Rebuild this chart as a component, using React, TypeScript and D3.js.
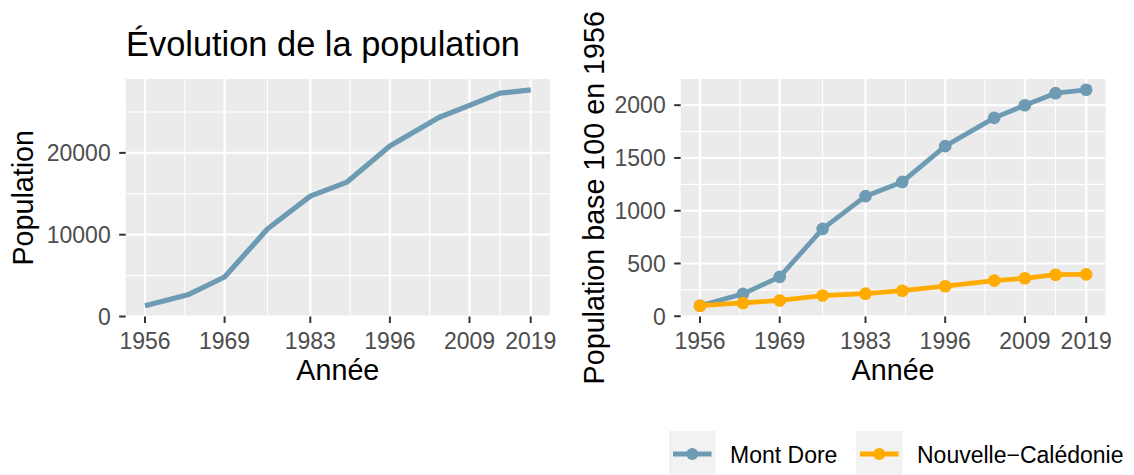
import React from 'react';
import * as d3 from 'd3';

// census years and values
const years = [1956, 1963, 1969, 1976, 1983, 1989, 1996, 2004, 2009, 2014, 2019];
const popMontDore = [1320, 2650, 4830, 10690, 14720, 16430, 20840, 24320, 25810, 27300, 27710];
const indexMontDore = [100, 212, 373, 828, 1138, 1273, 1612, 1880, 2000, 2114, 2146];
const indexNC = [100, 126, 150, 196, 214, 242, 285, 338, 360, 394, 397];

const xBreaks = [1956, 1969, 1983, 1996, 2009, 2019];
const popBreaks = [0, 10000, 20000];
const indexBreaks = [0, 500, 1000, 1500, 2000];

const series = [
  { name: 'Mont Dore', color: '#6d9bb3', values: indexMontDore },
  { name: 'Nouvelle\u2212Calédonie', color: '#ffab00', values: indexNC },
];

const W = 1134;
const H = 475;
const FONT = '"Liberation Sans", Arial, Helvetica, sans-serif';
const PANEL_BG = '#ebebeb';
const TICK_COL = '#4d4d4d';
const top = 79;
const bottom = 316.5;

const expand = (lo: number, hi: number) => {
  const d = (hi - lo) * 0.05;
  return [lo - d, hi + d];
};

const minorsOf = (breaks: number[], domain: number[]) => {
  const step = breaks[1] - breaks[0];
  const mids = d3.pairs(breaks).map(([a, b]) => (a + b) / 2);
  const extra = [breaks[0] - step / 2, breaks[breaks.length - 1] + step / 2];
  return mids.concat(extra).filter(v => v > domain[0] && v < domain[1]);
};

const xDomain = expand(d3.min(years)!, d3.max(years)!);
const xMinors = d3.pairs(xBreaks).map(([a, b]) => (a + b) / 2);

const Panel = ({ x0, x1, yDomain, yBreaks, children }: any) => {
  const x = d3.scaleLinear().domain(xDomain).range([x0, x1]);
  const y = d3.scaleLinear().domain(yDomain).range([bottom, top]);
  const yMinors = minorsOf(yBreaks, yDomain);
  return (
    <g>
      <rect x={x0} y={top} width={x1 - x0} height={bottom - top} fill={PANEL_BG} />
      {yMinors.map(v => (
        <line key={'ym' + v} x1={x0} x2={x1} y1={y(v)} y2={y(v)} stroke="#fff" strokeWidth={1.1} />
      ))}
      {xMinors.map(v => (
        <line key={'xm' + v} x1={x(v)} x2={x(v)} y1={top} y2={bottom} stroke="#fff" strokeWidth={1.1} />
      ))}
      {yBreaks.map((v: number) => (
        <line key={'yM' + v} x1={x0} x2={x1} y1={y(v)} y2={y(v)} stroke="#fff" strokeWidth={2.2} />
      ))}
      {xBreaks.map(v => (
        <line key={'xM' + v} x1={x(v)} x2={x(v)} y1={top} y2={bottom} stroke="#fff" strokeWidth={2.2} />
      ))}
      {children(x, y)}
      {yBreaks.map((v: number) => (
        <g key={'yt' + v}>
          <line x1={x0 - 6.5} x2={x0} y1={y(v)} y2={y(v)} stroke="#333" strokeWidth={2} />
          <text x={x0 - 15} y={y(v)} dy="0.36em" textAnchor="end" fontSize={23} fill={TICK_COL}>{v}</text>
        </g>
      ))}
      {xBreaks.map(v => (
        <g key={'xt' + v}>
          <line x1={x(v)} x2={x(v)} y1={bottom} y2={bottom + 6.5} stroke="#333" strokeWidth={2} />
          <text x={x(v)} y={348.5} textAnchor="middle" fontSize={23} fill={TICK_COL}>{v}</text>
        </g>
      ))}
      <text x={(x0 + x1) / 2} y={380} textAnchor="middle" fontSize={28.7} fill="#000">Année</text>
    </g>
  );
};

export default function App() {
  const popDomain = expand(d3.min(popMontDore)!, d3.max(popMontDore)!);
  const allIdx = indexMontDore.concat(indexNC);
  const idxDomain = expand(d3.min(allIdx)!, d3.max(allIdx)!);

  return (
    <svg width={W} height={H} style={{ position: 'fixed', left: 0, top: 0 }} fontFamily={FONT}>
      <rect width={W} height={H} fill="#fff" />

      <text x={126} y={56} fontSize={34.4} fill="#000">Évolution de la population</text>
      <text transform={`translate(32.5,${(top + bottom) / 2}) rotate(-90)`} textAnchor="middle" fontSize={28.7}>Population</text>
      <Panel x0={125.7} x1={550} yDomain={popDomain} yBreaks={popBreaks}>
        {(x: any, y: any) => {
          const line = d3.line<number>().x((d, i) => x(years[i])).y(d => y(d));
          return <path d={line(popMontDore)!} fill="none" stroke={series[0].color} strokeWidth={5.2} strokeLinejoin="round" />;
        }}
      </Panel>

      <text transform={`translate(603.5,${(top + bottom) / 2}) rotate(-90)`} textAnchor="middle" fontSize={28.7}>Population base 100 en 1956</text>
      <Panel x0={680.7} x1={1105.5} yDomain={idxDomain} yBreaks={indexBreaks}>
        {(x: any, y: any) => {
          const line = d3.line<number>().x((d, i) => x(years[i])).y(d => y(d));
          return series.map(s => (
            <g key={s.name}>
              <path d={line(s.values)!} fill="none" stroke={s.color} strokeWidth={4.8} strokeLinejoin="round" />
              {s.values.map((v, i) => (
                <circle key={i} cx={x(years[i])} cy={y(v)} r={6.3} fill={s.color} />
              ))}
            </g>
          ));
        }}
      </Panel>

      {/* legend */}
      {series.map((s, i) => {
        const kx = i === 0 ? 669 : 856;
        return (
          <g key={s.name}>
            <rect x={kx} y={431} width={46.5} height={46} fill="#f2f2f2" />
            <line x1={kx + 4} x2={kx + 42.5} y1={454} y2={454} stroke={s.color} strokeWidth={4.8} />
            <circle cx={kx + 23.25} cy={454} r={6} fill={s.color} />
            <text x={kx + 61} y={462.5} fontSize={23} fill="#000">{s.name}</text>
          </g>
        );
      })}
    </svg>
  );
}
